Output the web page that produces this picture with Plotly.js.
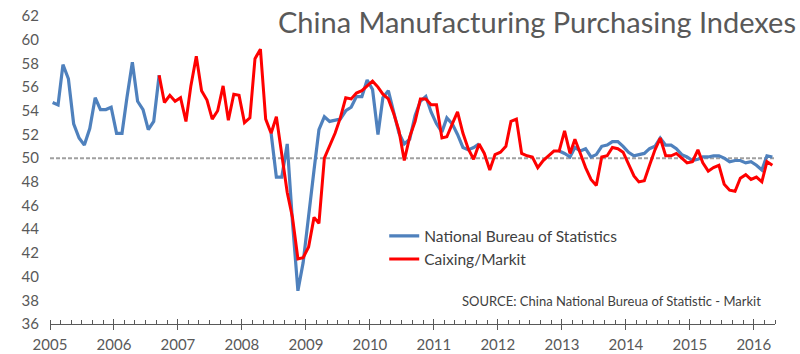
<!DOCTYPE html>
<html>
<head>
<meta charset="utf-8">
<script src="https://cdn.plot.ly/plotly-3.0.1.min.js"></script>
<style>
  html, body { margin: 0; padding: 0; background: #ffffff; }
  #chart { width: 800px; height: 354px; }
</style>
</head>
<body>
<div id="chart"></div>
<script>
// Monthly categories: Jan 2005 .. Apr 2016
const startYear = 2005;
const monthCount = 136;
const months = [];
for (let i = 0; i < monthCount; i++) {
  const y = startYear + Math.floor(i / 12);
  const m = (i % 12) + 1;
  months.push(y + '-' + String(m).padStart(2, '0') + '-16');
}

const nbsName = 'National Bureau of Statistics';
const caixinName = 'Caixing/Markit';

// National Bureau of Statistics (blue)
const nbs2005 = [54.7, 54.5, 57.9, 56.7, 52.9, 51.7, 51.1, 52.5, 55.1, 54.1, 54.1, 54.3];
const nbs2006 = [52.1, 52.1, 55.1, 58.1, 54.8, 54.1, 52.4, 53.1, 57.0, null, null, null];
const nbs2007 = [null, null, null, null, null, null, null, null, null, null, null, null];
const nbs2008 = [null, null, null, null, null, 52.1, 48.4, 48.4, 51.2, 44.6, 38.8, 41.2];
const nbs2009 = [45.3, 49.0, 52.4, 53.5, 53.1, 53.2, 53.3, 54.0, 54.3, 55.2, 55.2, 56.6];
const nbs2010 = [55.8, 52.0, 55.1, 55.7, 53.9, 52.1, 51.2, 51.6, 53.6, 54.8, 55.2, 53.9];
const nbs2011 = [52.9, 52.2, 53.4, 52.9, 52.0, 50.9, 50.7, 50.9, 51.2, null, null, null];
const nbs2012 = [null, null, null, null, null, null, null, null, null, null, null, 50.6];
const nbs2013 = [50.4, 50.1, 50.9, 50.6, 50.8, 50.1, 50.3, 51.0, 51.1, 51.4, 51.4, 51.0];
const nbs2014 = [50.5, 50.2, 50.3, 50.4, 50.8, 51.0, 51.7, 51.1, 51.1, 50.8, 50.3, 50.1];
const nbs2015 = [49.8, 49.9, 50.1, 50.1, 50.2, 50.2, 50.0, 49.7, 49.8, 49.8, 49.6, 49.7];
const nbs2016 = [49.4, 49.0, 50.2, 50.1];

// Caixing/Markit (red)
const cx2005 = [null, null, null, null, null, null, null, null, null, null, null, null];
const cx2006 = [null, null, null, null, null, null, null, null, 57.0, 54.7, 55.3, 54.8];
const cx2007 = [55.1, 53.1, 56.1, 58.6, 55.7, 54.9, 53.3, 54.0, 56.1, 53.2, 55.4, 55.3];
const cx2008 = [53.0, 53.4, 58.4, 59.2, 53.3, 52.1, 53.5, 50.2, 47.1, 45.0, 41.5, 41.6];
const cx2009 = [42.5, 45.0, 44.5, 50.0, 51.0, 52.1, 53.4, 55.1, 55.0, 55.5, 55.7, 56.1];
const cx2010 = [56.5, 56.0, 55.4, 55.0, 53.8, 52.3, 49.8, 51.8, 53.1, 55.0, 55.0, 54.5];
const cx2011 = [54.5, 51.7, 51.8, 52.9, 53.9, 52.1, 50.8, 49.9, 51.2, 50.4, 49.0, 50.3];
const cx2012 = [50.5, 51.0, 53.1, 53.3, 50.4, 50.2, 50.1, 49.2, 49.8, 50.2, 50.6, 50.6];
const cx2013 = [52.3, 50.4, 51.6, 50.4, 49.2, 48.2, 47.7, 50.1, 50.2, 50.9, 50.8, 50.5];
const cx2014 = [49.5, 48.5, 48.0, 48.1, 49.4, 50.7, 51.7, 50.2, 50.2, 50.4, 50.0, 49.6];
const cx2015 = [49.7, 50.7, 49.6, 48.9, 49.2, 49.4, 47.8, 47.3, 47.2, 48.3, 48.6, 48.2];
const cx2016 = [48.4, 48.0, 49.7, 49.4];

const nbs = [].concat(nbs2005, nbs2006, nbs2007, nbs2008, nbs2009, nbs2010,
                      nbs2011, nbs2012, nbs2013, nbs2014, nbs2015, nbs2016);
const caixin = [].concat(cx2005, cx2006, cx2007, cx2008, cx2009, cx2010,
                         cx2011, cx2012, cx2013, cx2014, cx2015, cx2016);

const refLevel = 50;
const yMin = 36, yMax = 62;

const FONT = 'Lato, "Open Sans", sans-serif';
const GREY = '#595959';

const traces = [
  {
    x: months, y: nbs, name: nbsName, type: 'scatter', mode: 'lines',
    line: { color: '#4f81bd', width: 3.2 }, connectgaps: false
  },
  {
    x: months, y: caixin, name: caixinName, type: 'scatter', mode: 'lines',
    line: { color: '#ff0000', width: 3 }, connectgaps: false
  },
  {
    x: [], y: [], xaxis: 'x2', type: 'scatter', mode: 'lines',
    showlegend: false, hoverinfo: 'skip'
  }
];

const layout = {
  width: 800, height: 354,
  margin: { l: 50, r: 25, t: 16, b: 30, pad: 0 },
  paper_bgcolor: '#ffffff', plot_bgcolor: '#ffffff',
  font: { family: FONT, color: GREY },
  title: {
    text: 'China Manufacturing Purchasing Indexes',
    font: { family: FONT, size: 29, color: GREY },
    xref: 'container', yref: 'container',
    x: 1, xanchor: 'right', y: 0.936, yanchor: 'middle',
    pad: { r: 4 }
  },
  xaxis: {
    type: 'date',
    range: ['2005-01-01', '2016-05-01'],
    tick0: '2005-01-01', dtick: 'M12', tickformat: '%Y',
    ticks: 'outside', ticklen: 5, tickwidth: 1, tickcolor: GREY,
    showline: true, linecolor: GREY, linewidth: 1,
    showgrid: false, zeroline: false,
    ticklabelstandoff: 2,
    tickfont: { family: FONT, size: 15, color: GREY },
    minor: { dtick: 'M2', tick0: '2005-01-01', ticks: 'inside', ticklen: 4, tickwidth: 1, tickcolor: GREY, showgrid: false }
  },
  xaxis2: {
    type: 'date', overlaying: 'x', matches: 'x', anchor: 'y',
    tick0: '2005-01-01', dtick: 'M12',
    ticks: 'inside', ticklen: 5, tickwidth: 1, tickcolor: GREY,
    showticklabels: false, showline: false, showgrid: false, zeroline: false
  },
  yaxis: {
    range: [yMin, yMax], tick0: yMin, dtick: 2,
    ticks: '', showline: false, showgrid: false, zeroline: false,
    ticklabelstandoff: 10,
    tickfont: { family: FONT, size: 15, color: GREY }
  },
  shapes: [
    {
      type: 'line', xref: 'paper', x0: 0, x1: 1, yref: 'y', y0: refLevel, y1: refLevel,
      line: { color: '#a0a0a0', width: 2, dash: '4px,2px' }, layer: 'below'
    }
  ],
  legend: {
    x: 0.461, y: 0.34, xanchor: 'left', yanchor: 'top',
    bgcolor: 'rgba(0,0,0,0)', borderwidth: 0,
    font: { family: FONT, size: 15.5, color: '#404040' },
    itemwidth: 30, tracegroupgap: 0
  },
  annotations: [
    {
      text: 'SOURCE: China National Bureua of Statistic - Markit',
      xref: 'paper', yref: 'paper', x: 0.984, y: 0.076,
      xanchor: 'right', yanchor: 'middle', showarrow: false,
      font: { family: FONT, size: 13, color: '#404040' }
    }
  ],
  showlegend: true
};

Plotly.newPlot('chart', traces, layout, { displayModeBar: false, responsive: false });
</script>
</body>
</html>
